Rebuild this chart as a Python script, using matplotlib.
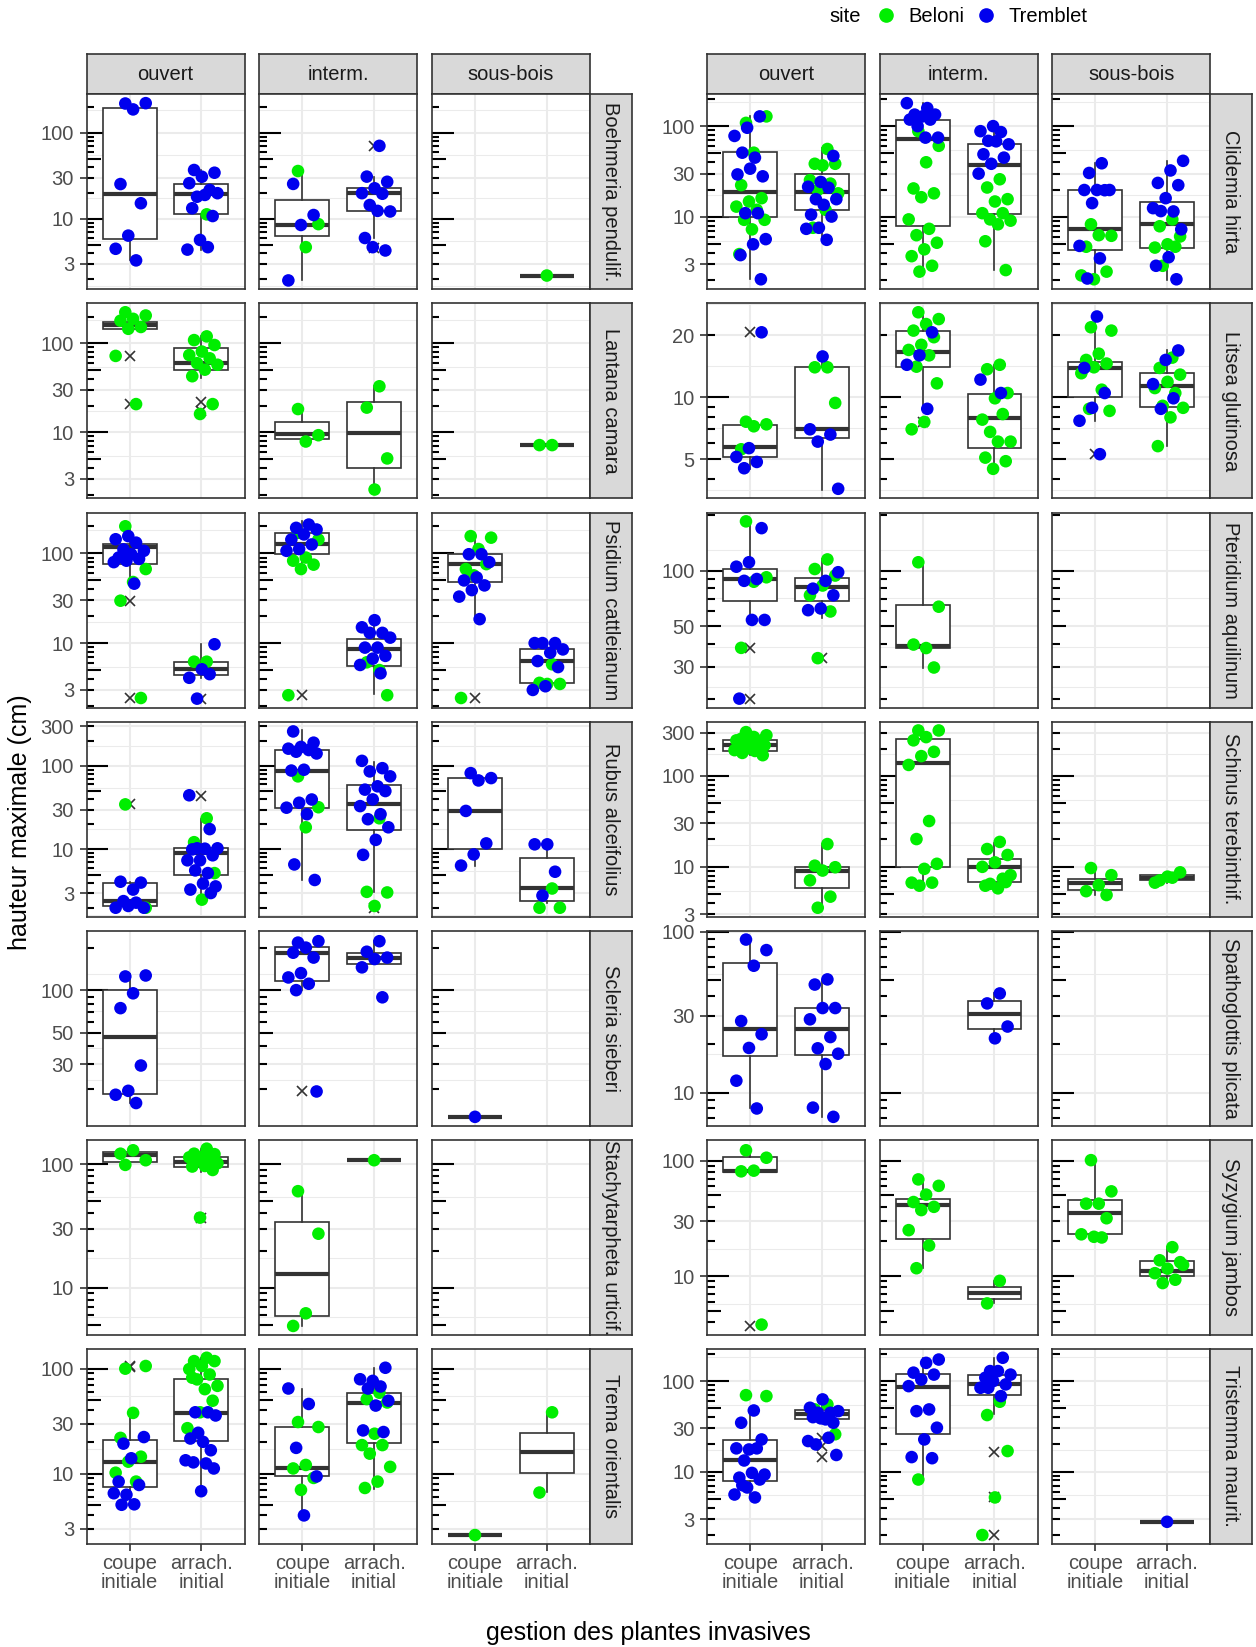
import numpy as np
import matplotlib.pyplot as plt
from matplotlib.lines import Line2D
from matplotlib.ticker import FixedLocator, NullFormatter
from matplotlib.transforms import blended_transform_factory

plt.rcParams['font.family'] = ['Liberation Sans', 'DejaVu Sans']

GREEN = '#00EE00'
BLUE = '#0000EE'
DARK = '#333333'
GRID = '#EBEBEB'

habitats = ['ouvert', 'interm.', 'sous-bois']
treatments = ['coupe\ninitiale', 'arrach.\ninitial']
sites = ['Beloni', 'Tremblet']


def G(beloni, tremblet, box, out=()):
    # one group: Beloni values, Tremblet values, box (lo, q1, med, q3, hi), outliers
    return dict(b=list(beloni), t=list(tremblet), box=box, out=list(out))


# ---------------- left block ----------------
boehmeria = {
    'ouvert': [G([], [219, 221, 187, 25.4, 15.2, 6.4, 4.5, 3.3], (3.3, 5.8, 19.6, 195, 221)),
               G([11.3], [37, 34.4, 30.9, 26, 21.7, 18.1, 19.9, 19, 13.3, 10.8, 5.7, 4.4, 4.7],
                 (4.4, 11.3, 19.3, 25.6, 37))],
    'interm.': [G([36, 8.7, 4.7], [25.5, 11.1, 8.5, 1.93], (1.93, 6.3, 8.5, 16.7, 36)),
                G([], [70.6, 31, 27, 22.7, 19.9, 19.6, 14.5, 12.2, 12.4, 6, 4.3, 4.7],
                  (6, 12.2, 19.9, 22.7, 31), [70.6, 4.57])],
    'sous-bois': [None, G([2.2], [], (2.2, 2.2, 2.2, 2.2, 2.2))],
}
lantana = {
    'ouvert': [G([224, 206, 189, 180, 153, 146, 72.4, 20.8], [], (146, 146, 160, 174, 224), [72.4, 20.8]),
               G([120, 109, 96, 81, 74, 68, 60, 57.6, 50.7, 42.8, 20.8, 16.1], [],
                 (41, 49.8, 60, 88, 120), [21.7, 17.5])],
    'interm.': [G([18.3, 9.3, 7.9], [], (7.9, 8.4, 9.7, 13, 18.3)),
                G([33, 19, 5.1, 2.28], [], (2.4, 4.0, 9.9, 22, 33))],
    'sous-bois': [None, G([7.2, 7.2], [], (7.2, 7.2, 7.2, 7.2, 7.2))],
}
psidium = {
    'ouvert': [G([201, 67, 48, 29.7, 2.44], [156, 144, 132, 111, 107, 98, 90, 87, 83, 80, 46],
                 (46, 76.4, 118, 129, 201), [29.7, 2.44]),
               G([6.2, 6.2], [9.7, 5.1, 4.1, 4.5, 2.4], (4.1, 4.4, 5.1, 6.2, 9.7), [2.4])],
    'interm.': [G([170, 143, 90, 83, 75, 67, 2.62], [210, 193, 185, 163, 143, 126, 112, 107],
                  (64, 98, 129, 170, 228), [2.62]),
                G([5, 6.1, 2.62], [18, 15, 13, 13, 11.5, 8.9, 8.9, 7.2, 6.7, 5.7, 4.6],
                  (2.7, 5.6, 8.5, 11.2, 17.5))],
    'sous-bois': [G([156, 150, 112, 67, 76, 57, 2.44], [98, 98, 80, 54, 50, 44, 39, 33, 18.5],
                    (19, 48, 76, 98, 156), [2.44]),
                  G([5.8, 3.6, 3.5, 3.5], [10, 10, 10, 8.5, 7.8, 6.3, 5.4, 3.3, 3.0],
                    (3.0, 3.6, 6.3, 8.5, 10))],
}
rubus = {
    'ouvert': [G([34.6, 2.0], [3.3, 4.1, 4.0, 2.1, 2.0, 2.3, 2.4, 2.0], (2.0, 2.09, 2.39, 4.0, 4.1), [34.6]),
               G([23.6, 12.2, 5.2, 2.5],
                 [44.5, 17.5, 10.3, 10.3, 10.2, 10, 8.5, 7.4, 7.4, 5.2, 5.6, 3.6, 3.9, 3.3, 3.0],
                 (2.5, 4.93, 9.1, 10.4, 23), [44])],
    'interm.': [G([75, 32, 18.4],
                  [259, 190, 169, 161, 155, 148, 141, 90, 88, 39.6, 36.2, 31.6, 26.4, 6.6, 4.3],
                  (4.3, 31.6, 88, 157, 266)),
                G([23.6, 3.1, 3.05, 2.1], [115, 94, 86, 75, 57, 52, 50, 39.7, 33, 26.4, 23, 18.4, 13, 8.6],
                  (3.1, 17.1, 35.3, 59.7, 112), [2.0])],
    'sous-bois': [G([], [82, 71.5, 67, 28.9, 11.8, 8.7, 6.4], (6.4, 10, 28.9, 71.5, 82)),
                  G([3.4, 2.0, 2.0], [11.5, 11.5, 5.4, 2.8], (2.3, 2.39, 3.43, 7.8, 11.5))],
}
scleria = {
    'ouvert': [G([], [125, 127, 95, 74.6, 29.3, 19.4, 18.2, 15.9], (15.9, 18.4, 47, 100, 130)), None],
    'interm.': [G([], [217, 222, 200, 184, 170, 132, 123, 111, 100, 19.2], (100, 116, 184, 202, 228), [19.2]),
                G([], [222, 187, 170, 166, 145, 89], (153, 153, 168, 184, 222))],
    'sous-bois': [G([], [12.7], (12.7, 12.7, 12.7, 12.7, 12.7)), None],
}
stachytarpheta = {
    'ouvert': [G([99, 108, 130, 122], [], (99, 105, 118.6, 126, 130)),
               G([134, 122, 121, 115, 114, 111, 108, 102, 97, 96, 90, 37], [],
                 (87, 95.8, 105, 113.7, 134), [36.5])],
    'interm.': [G([60.6, 27.4, 6.2, 4.9], [], (4.9, 5.85, 12.8, 33.9, 60.6)),
                G([108], [], (108, 108, 108, 108, 108))],
    'sous-bois': [None, None],
}
trema = {
    'ouvert': [G([100, 106, 37.9, 21.9, 14.5, 13, 10.2, 8.4],
                 [19.3, 22.3, 14.0, 8.4, 7.8, 6.3, 6.5, 5.1, 5.05],
                 (4.9, 7.4, 12.8, 20.8, 37), [106, 104]),
               G([127, 118, 118, 106, 99, 88, 79, 68.6, 63.8, 82, 49.5, 38.4, 27.1],
                 [38.4, 38.4, 35.8, 20.1, 21.6, 16.7, 24.5, 13.4, 12.5, 12.8, 11.2, 6.8],
                 (6.8, 20.5, 37.9, 80.5, 127))],
    'interm.': [G([31, 27.8, 12.1, 11.2, 9.1, 7.0], [64.7, 46.1, 17.6, 9.4, 4.0], (4.0, 9.4, 11.2, 27.8, 64.7)),
                G([59, 51.3, 47.6, 24, 18.7, 18.7, 15.5, 11.6, 8.4, 7.3],
                  [102, 76.5, 79.3, 67.6, 64.7, 49.5, 44.5, 25.8, 24.9],
                  (7.2, 19.6, 47.1, 58.6, 102))],
    'sous-bois': [G([2.6], [], (2.6, 2.6, 2.6, 2.6, 2.6)),
                  G([38.4, 6.6], [], (6.7, 10.2, 15.9, 24.5, 39))],
}

# ---------------- right block ----------------
clidemia = {
    'ouvert': [G([108.6, 128, 51, 22.4, 16.1, 14.8, 13, 12, 9.3, 9.3, 7.3, 3.9],
                 [128, 96, 78, 45, 51, 28, 34, 29.4, 11, 11, 5.7, 5, 3.8, 2.06],
                 (2.1, 10, 18.9, 51.4, 128)),
               G([56, 38.5, 38.5, 37, 25.4, 23.3, 19.8, 18.2, 12, 7.6],
                 [47, 24.3, 21.5, 21, 15.7, 15.7, 13.6, 10.6, 10.1, 7.6, 7.4, 5.6],
                 (5.6, 11.8, 18.9, 30, 58))],
    'interm.': [G([88, 60.7, 40, 20.6, 18.2, 16.5, 9.4, 7.4, 6.3, 5.2, 4.4, 3.7, 2.9, 2.5],
                  [179, 158, 134, 134, 128, 118, 118, 100, 74.7, 74.7],
                  (2.7, 8.05, 71.8, 118, 179)),
                G([26, 21.1, 15.7, 14.8, 11, 11, 9.4, 9.1, 8.3, 5.4, 2.6],
                  [100, 88, 86, 68.8, 63, 68, 49, 45, 38.5, 30],
                  (2.6, 10.8, 37.8, 63, 100))],
    'sous-bois': [G([8.3, 6.2, 6.3, 4.7, 2.5, 2.06, 2.27],
                    [39, 30.5, 19.8, 19.8, 19.8, 19.7, 14.2, 4.8, 3.5, 2.1],
                    (2.06, 4.35, 7.3, 19.8, 39)),
                  G([9.4, 7.9, 6.1, 5, 4.6, 4.7, 2.9],
                    [41.5, 32.5, 23.7, 22.4, 16.1, 12.5, 11.5, 11.6, 7.3, 3.6, 2.9, 2.06],
                    (2.0, 4.6, 8.45, 14.5, 41.5))],
}
litsea = {
    'ouvert': [G([7.62, 7.4, 7.24, 5.6], [20.7, 5.67, 5.14, 4.86, 4.53], (4.5, 5.14, 5.74, 7.36, 7.62), [20.7]),
               G([14, 14, 9.4], [15.8, 7.0, 6.6, 6.1, 3.6], (3.57, 6.34, 7.03, 14.1, 16.3))],
    'interm.': [G([25.9, 24.0, 22.7, 21.1, 19.6, 18.0, 17.0, 16.0, 14.1, 11.7, 7.6, 7.0],
                  [20.7, 16.0, 14.4, 8.8], (8.8, 14.1, 16.7, 20.96, 25.9), [7.6]),
                G([14.4, 13.7, 10.5, 9.9, 7.8, 8.3, 6.8, 6.1, 6.1, 5.1, 4.9, 4.5], [12.2, 10.5],
                  (4.5, 5.68, 7.9, 10.4, 14.4))],
    'sous-bois': [G([21.9, 21.1, 16.3, 15.2, 14.6, 14, 13.1, 10.9, 8.8, 8.6], [24.7, 13.9, 10.5, 8.9, 7.7, 5.3],
                    (7.7, 10.1, 13.9, 14.9, 24.7), [5.3]),
                  G([15.6, 13.9, 12.9, 11.9, 11.1, 10.5, 9.1, 8.9, 8.0, 5.8], [16.9, 15.2, 11.6, 9.9, 8.8],
                    (5.8, 9.0, 11.4, 13.1, 16.9))],
}
pteridium = {
    'ouvert': [G([185, 92, 87, 38.1], [170, 111, 105, 90, 88, 54, 54, 20.2],
                 (54, 68.3, 90.2, 102, 185), [38.1, 20.2]),
               G([115, 102, 94, 83, 73.5, 60, 33.5], [98, 88, 79.8, 73.5, 62.3, 61],
                 (55, 68.3, 81.4, 91, 115), [33.5])],
    'interm.': [G([111, 63.7, 38, 39.7, 29.8], [], (29.8, 37.8, 39, 65, 111)), None],
    'sous-bois': [None, None],
}
schinus = {
    'ouvert': [G([303, 280, 268, 256, 246, 250, 246, 226, 226, 217, 208, 208, 208, 200, 192, 188, 179, 169], [],
                 (169, 188, 217, 246, 303)),
               G([17.8, 10.3, 9.9, 9.1, 7.1, 4.7, 3.55], [], (3.55, 5.8, 9.1, 10, 17.8))],
    'interm.': [G([316, 316, 267, 246, 184, 165, 132, 31.9, 20.2, 10.8, 9.5, 6.7, 6.7, 6.2], [],
                  (6.2, 10, 137, 257, 316)),
                G([18.8, 15.7, 13.5, 11.2, 10, 7.4, 6.5, 8.1, 5.8, 6.2, 6.8], [], (5.8, 6.8, 10, 12.2, 18.3))],
    'sous-bois': [G([9.7, 8.1, 6.3, 5.4, 4.9], [], (4.9, 5.5, 6.7, 7.3, 9.5)),
                  G([7.6, 7.1, 8.7, 7.8, 6.7], [], (6.7, 7.1, 7.6, 8.1, 8.7))],
}
spathoglottis = {
    'ouvert': [G([], [89.4, 76.9, 61.5, 27.9, 23.1, 19.0, 11.9, 8.0], (8.1, 17, 25, 64.2, 87)),
               G([], [50.6, 47, 33.6, 33.6, 28.6, 22.2, 18.9, 17.5, 15.1, 8.1, 7.1], (7.1, 17.1, 25, 33.6, 50.3))],
    'interm.': [None, G([], [41.4, 35.9, 25.8, 21.8], (22.6, 24.8, 30.7, 37.2, 41.4))],
    'sous-bois': [None, None],
}
syzygium = {
    'ouvert': [G([123, 106, 81.9, 80.8, 3.8], [], (79.8, 79.8, 80.8, 108, 127), [3.7]), None],
    'interm.': [G([68.8, 60.5, 50.8, 43.8, 39.8, 37.3, 25, 18.4, 11.7], [], (11.7, 21.1, 41.1, 46.8, 66.6)),
                G([9.1, 5.8], [], (5.8, 6.3, 7.2, 8.0, 9.0))],
    'sous-bois': [G([101, 54.2, 42.4, 42.4, 31.7, 21.9, 23, 21.6], [], (21.1, 23, 35.4, 45.2, 101)),
                  G([17.8, 13.7, 13.2, 11.6, 10.6, 9.3, 8.7, 12.5], [], (8.7, 10.1, 11.0, 13.5, 17.8))],
}
tristemma = {
    'ouvert': [G([70, 68.3], [47.4, 34.7, 22.7, 17.6, 18.1, 18.1, 13.3, 9.3, 9.7, 8.6, 8.2, 6.7, 5.6, 5.2, 7.1],
                 (5.4, 7.8, 13.3, 22.2, 50.8)),
               G([55.3, 48.7, 25.9], [62.8, 50.8, 44.7, 44.7, 46.6, 37.8, 40, 34.7, 38.8, 21.8, 23.7, 20, 15.3],
                 (34.7, 37.8, 43.6, 47.9, 65.5), [23.7, 19.2, 14.5])],
    'interm.': [G([8.2], [173, 159, 124, 118, 104, 88, 48.7, 46.6, 30.6, 22.7, 14.5, 14.1],
                  (8.2, 25.8, 85.9, 120, 181)),
                G([59.2, 42.2, 16.9, 5.2, 2.0], [181, 129, 118, 129, 109, 92, 100, 84.4, 68.3, 84.4],
                  (43, 70, 93.5, 116, 181), [16.6, 5.2, 2.0])],
    'sous-bois': [None, G([], [2.8], (2.8, 2.8, 2.8, 2.8, 2.8))],
}

left_species = [('Boehmeria pendulif.', boehmeria), ('Lantana camara', lantana),
                ('Psidium cattleianum', psidium), ('Rubus alceifolius', rubus),
                ('Scleria sieberi', scleria), ('Stachytarpheta urticif.', stachytarpheta),
                ('Trema orientalis', trema)]
right_species = [('Clidemia hirta', clidemia), ('Litsea glutinosa', litsea),
                 ('Pteridium aquilinum', pteridium), ('Schinus terebinthif.', schinus),
                 ('Spathoglottis plicata', spathoglottis), ('Syzygium jambos', syzygium),
                 ('Tristemma maurit.', tristemma)]

left_breaks = [[3, 10, 30, 100], [3, 10, 30, 100], [3, 10, 30, 100], [3, 10, 30, 100, 300],
               [30, 50, 100], [10, 30, 100], [3, 10, 30, 100]]
right_breaks = [[3, 10, 30, 100], [5, 10, 20], [30, 50, 100], [3, 10, 30, 100, 300],
                [10, 30, 100], [10, 30, 100], [3, 10, 30, 100]]

# ---------------- layout (pixels) ----------------
W, H = 1256, 1647
LEFT_COLS = [(86.5, 244.5), (259.2, 417.2), (431.9, 589.9)]
LEFT_STRIP = (589.9, 631.6)
RIGHT_COLS = [(707.2, 865.2), (879.5, 1037.6), (1052.2, 1210.1)]
RIGHT_STRIP = (1210.1, 1251.8)
ROW_TOP0, ROW_STEP, ROW_H = 94.3, 209.1, 195.0
STRIP_TOP = 54.0
SMALL = 14.5


def px(x0, y0, x1, y1):
    return [x0 / W, 1 - y1 / H, (x1 - x0) / W, (y1 - y0) / H]


def row_limits(data):
    vals = []
    for groups in data.values():
        for g in groups:
            if g is None:
                continue
            vals += g['b'] + g['t'] + list(g['box']) + g['out']
    lv = np.log10(vals)
    span = lv.max() - lv.min()
    return 10 ** (lv.min() - 0.05 * span), 10 ** (lv.max() + 0.05 * span)


def minor_breaks(breaks, lim):
    b = list(np.log10(breaks))
    bd = b[1] - b[0]
    if np.log10(lim[0]) < b[0]:
        b = [b[0] - bd] + b
    if np.log10(lim[1]) > b[-1]:
        b = b + [b[-1] + bd]
    return [10 ** ((a + c) / 2) for a, c in zip(b[:-1], b[1:])]


def jitter(n, k):
    i = np.arange(n)
    return ((i * 0.618034 + 0.37 + 0.29 * k) % 1.0 - 0.5) * 0.46


def strip(rect, text, rot):
    sa = fig.add_axes(rect)
    sa.set_facecolor('#D9D9D9')
    sa.set_xticks([])
    sa.set_yticks([])
    for s in sa.spines.values():
        s.set_color(DARK)
        s.set_linewidth(1.2)
    sa.text(0.5, 0.5, text, rotation=rot, ha='center', va='center',
            fontsize=SMALL, color='#1A1A1A', transform=sa.transAxes)


def draw_panel(ax, groups, lim, breaks, first_col, last_row, width_px):
    ax.set_yscale('log')
    ax.set_xlim(0.4, 2.6)
    ax.set_ylim(*lim)
    ax.set_axisbelow(True)
    ax.set_xticks([1, 2])
    ax.set_yticks(breaks)
    ax.set_yticklabels([str(b) for b in breaks])
    ax.yaxis.set_minor_locator(FixedLocator(minor_breaks(breaks, lim)))
    ax.yaxis.set_minor_formatter(NullFormatter())
    ax.grid(which='major', color=GRID, linewidth=1.5)
    ax.grid(which='minor', axis='y', color=GRID, linewidth=0.75)
    ax.tick_params(which='minor', length=0)
    for s in ax.spines.values():
        s.set_color(DARK)
        s.set_linewidth(1.2)
    if first_col:
        ax.tick_params(axis='y', which='major', length=5, width=1.2, color=DARK,
                       labelsize=SMALL, labelcolor='#4D4D4D', pad=4)
    else:
        ax.tick_params(axis='y', which='major', length=0, labelleft=False)
    if last_row:
        ax.set_xticklabels(treatments, linespacing=1.05)
        ax.tick_params(axis='x', length=5, width=1.2, color=DARK,
                       labelsize=SMALL, labelcolor='#4D4D4D', pad=2)
    else:
        ax.tick_params(axis='x', length=0, labelbottom=False)

    # log ticks drawn inside the left edge (long / mid / short)
    tr = blended_transform_factory(ax.transAxes, ax.transData)
    for k in range(int(np.floor(np.log10(lim[0]))), int(np.ceil(np.log10(lim[1]))) + 1):
        for m in range(1, 10):
            v = m * 10.0 ** k
            if lim[0] <= v <= lim[1]:
                L = 21.7 if m == 1 else (14 if m == 5 else 7.4)
                ax.plot([0, L / width_px], [v, v], color='black', lw=1.5,
                        transform=tr, solid_capstyle='butt', zorder=1.5)

    for j, g in enumerate(groups):
        if g is None:
            continue
        pos = j + 1
        lo, q1, med, q3, hi = g['box']
        stats = [dict(whislo=lo, q1=q1, med=med, q3=q3, whishi=hi, fliers=g['out'])]
        ax.bxp(stats, positions=[pos], widths=0.75, patch_artist=True, showcaps=False,
               manage_ticks=False, zorder=2,
               boxprops=dict(facecolor='white', edgecolor=DARK, linewidth=1.2),
               medianprops=dict(color=DARK, linewidth=3, solid_capstyle='butt'),
               whiskerprops=dict(color=DARK, linewidth=1.2),
               flierprops=dict(marker='x', markeredgecolor=DARK, markersize=7.5,
                               markeredgewidth=1.2, linestyle='none'))
        vals = g['b'] + g['t']
        cols = [GREEN] * len(g['b']) + [BLUE] * len(g['t'])
        dx = jitter(len(vals), j) if len(vals) > 1 else np.zeros(1)
        ax.scatter(pos + dx, vals, s=82, c=cols, edgecolors='none', zorder=3)


fig = plt.figure(figsize=(W / 100, H / 100), dpi=100)

for cols, strip_x, species, breaks_list in [(LEFT_COLS, LEFT_STRIP, left_species, left_breaks),
                                            (RIGHT_COLS, RIGHT_STRIP, right_species, right_breaks)]:
    for c, (x0, x1) in enumerate(cols):
        strip(px(x0, STRIP_TOP, x1, ROW_TOP0), habitats[c], 0)
    for r, (name, data) in enumerate(species):
        top = ROW_TOP0 + ROW_STEP * r
        lim = row_limits(data)
        for c, (x0, x1) in enumerate(cols):
            ax = fig.add_axes(px(x0, top, x1, top + ROW_H))
            draw_panel(ax, data[habitats[c]], lim, breaks_list[r], c == 0, r == len(species) - 1, x1 - x0)
        strip(px(strip_x[0], top, strip_x[1], top + ROW_H), name, 270)

fig.text(20 / W, 1 - 822 / H, 'hauteur maximale (cm)', rotation=90, ha='center', va='center',
         fontsize=18)
fig.text(648 / W, 1 - 1633 / H, 'gestion des plantes invasives', ha='center', va='center',
         fontsize=18)

# legend on top
fig.text(845.5 / W, 1 - 17 / H, 'site', ha='center', va='center', fontsize=SMALL)
handles = [Line2D([], [], marker='o', ls='', color=GREEN, markersize=9.5),
           Line2D([], [], marker='o', ls='', color=BLUE, markersize=9.5)]
fig.legend(handles, sites, ncol=2, loc='center left', bbox_to_anchor=(876 / W, 1 - 17 / H),
           frameon=False, fontsize=SMALL, handlelength=1.0, handletextpad=0.6, columnspacing=0.6,
           borderpad=0, borderaxespad=0)

fig.savefig('out.png', dpi=100)
